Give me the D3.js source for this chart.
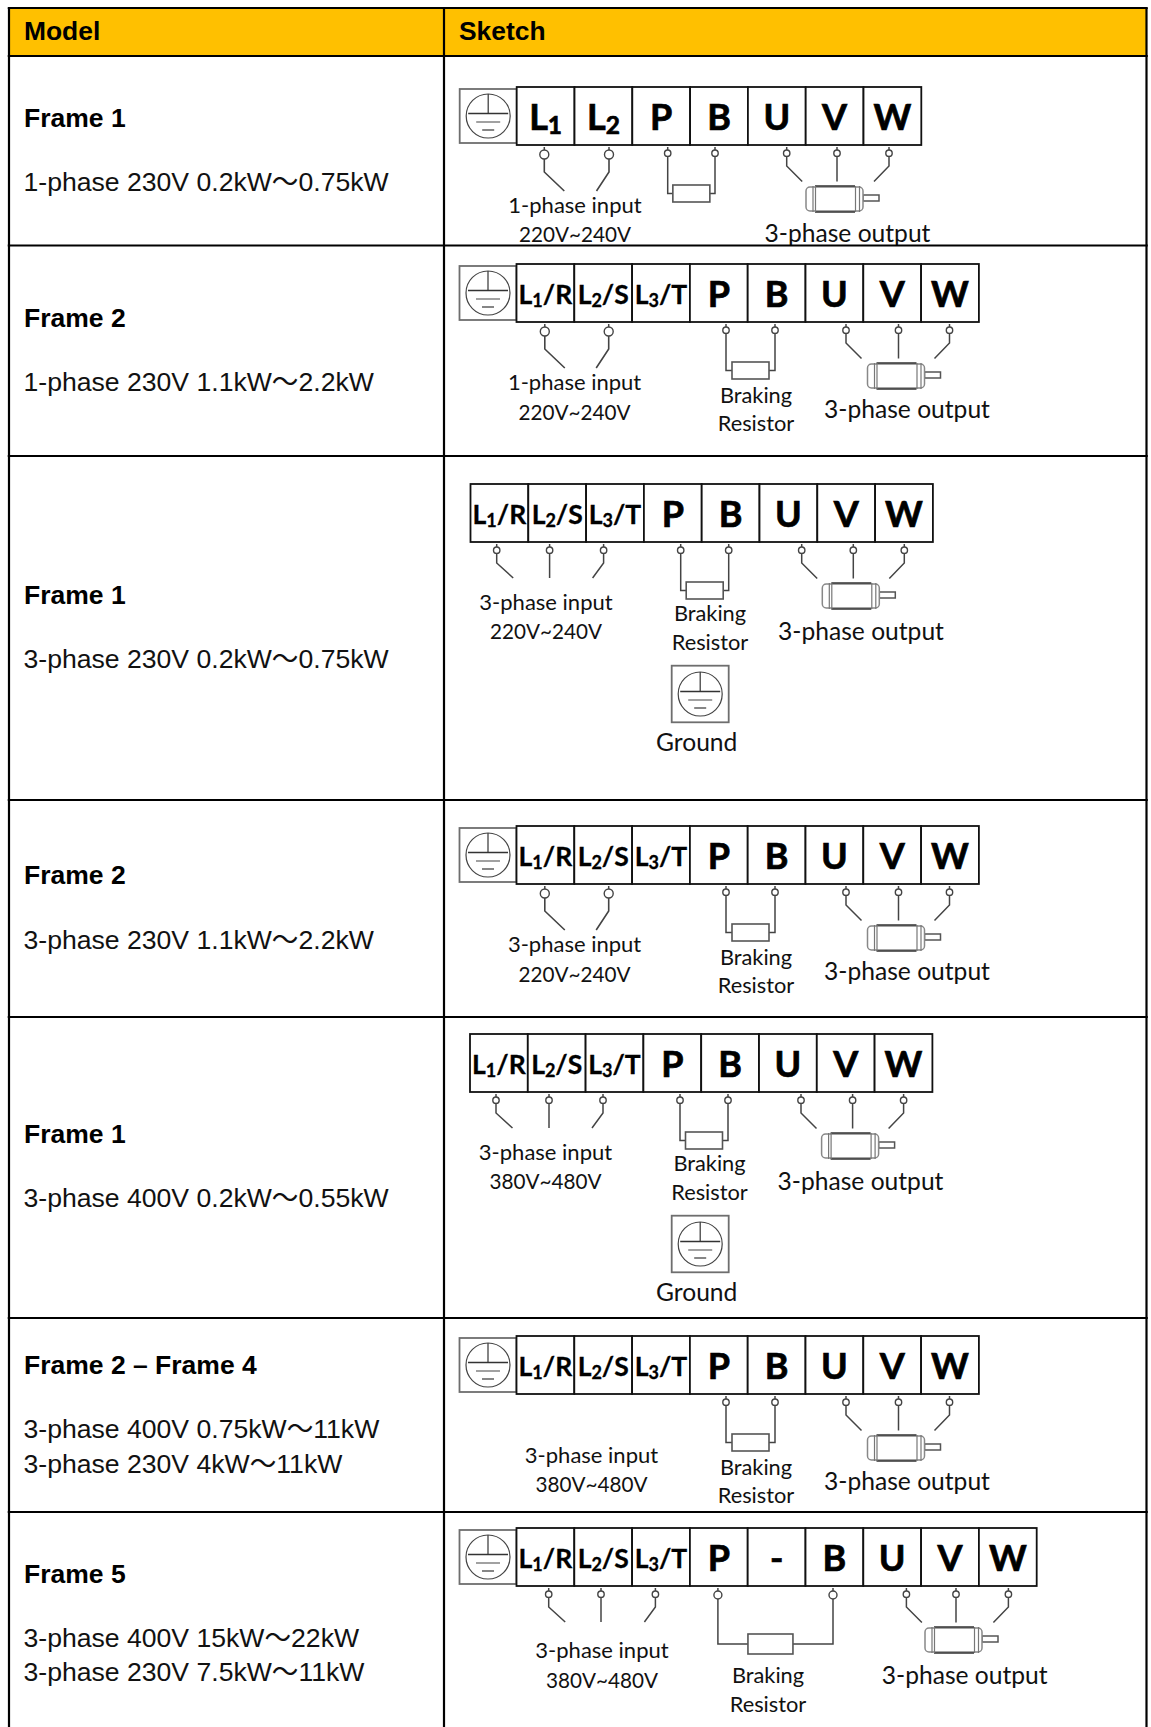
<!DOCTYPE html>
<html>
  <head>
    <title>Wiring sketches</title>
    <script src="https://cdn.jsdelivr.net/npm/d3@7/dist/d3.min.js"></script>
    <style>
      html, body { margin: 0; padding: 0; background: #fff; }
      svg { display: block; }
    </style>
  </head>
  <body>
    <svg width="1151" height="1727" id="mainsvg"></svg>
    <script>
      // table text
      const headers = ["Model", "Sketch"];
      const frameNames = ["Frame 1", "Frame 2", "Frame 1", "Frame 2", "Frame 1", "Frame 2 – Frame 4", "Frame 5"];
      const modelLines = [
        ["1-phase 230V 0.2kW～0.75kW"],
        ["1-phase 230V 1.1kW～2.2kW"],
        ["3-phase 230V 0.2kW～0.75kW"],
        ["3-phase 230V 1.1kW～2.2kW"],
        ["3-phase 400V 0.2kW～0.55kW"],
        ["3-phase 400V 0.75kW～11kW", "3-phase 230V 4kW～11kW"],
        ["3-phase 400V 15kW～22kW", "3-phase 230V 7.5kW～11kW"],
      ];
      const terminals = [
        ["L1", "L2", "P", "B", "U", "V", "W"],
        ["L1/R", "L2/S", "L3/T", "P", "B", "U", "V", "W"],
        ["L1/R", "L2/S", "L3/T", "P", "B", "U", "V", "W"],
        ["L1/R", "L2/S", "L3/T", "P", "B", "U", "V", "W"],
        ["L1/R", "L2/S", "L3/T", "P", "B", "U", "V", "W"],
        ["L1/R", "L2/S", "L3/T", "P", "B", "U", "V", "W"],
        ["L1/R", "L2/S", "L3/T", "P", "-", "B", "U", "V", "W"],
      ];
      const inputLabels = [
        ["1-phase input", "220V~240V"],
        ["1-phase input", "220V~240V"],
        ["3-phase input", "220V~240V"],
        ["3-phase input", "220V~240V"],
        ["3-phase input", "380V~480V"],
        ["3-phase input", "380V~480V"],
        ["3-phase input", "380V~480V"],
      ];

      // layout of the page
      const colX = [9, 444, 1146.5];
      const rowY = [8, 56, 245.5, 456, 800, 1017, 1318, 1512, 1729];
      const cellW = 57.8;
      const stripH = 58;
      const titleBase = [127, 327, 604, 883.5, 1143, 1374, 1583];
      const lineBase = [[190.7], [391], [668], [948.5], [1207], [1437.5, 1473], [1647, 1681]];

      // one entry per sketch: strip corner, wires, label anchors
      const sketches = [
        { x: 516.7, y: 87, ground: "left", inputs: [544.3, 609], inputKind: "two", inputText: [575, 126, 155],
          res: [667.7, 715], resText: null, motor: [786.7, 837, 889], motorText: [847.5, 154.6] },
        { x: 516.5, y: 264, ground: "left", inputs: [544.8, 608.7], inputKind: "two", inputText: [574.6, 126, 156],
          res: [726, 775], resText: [756, 139, 167], motor: [846, 898.5, 949.5], motorText: [907, 154] },
        { x: 470.5, y: 484, ground: "below", inputs: [496.7, 549.6, 603.6], inputKind: "three", inputText: [546, 126, 155],
          res: [680.7, 728.7], resText: [710, 136.7, 166], motor: [801.7, 853.3, 904.3], motorText: [861, 156] },
        { x: 516.5, y: 826, ground: "left", inputs: [544.8, 608.7], inputKind: "two", inputText: [574.6, 126, 156],
          res: [726, 775], resText: [756, 139, 167], motor: [846, 898.5, 949.5], motorText: [907, 154] },
        { x: 470, y: 1034, ground: "below", inputs: [496, 549, 603], inputKind: "three", inputText: [545.5, 126, 155],
          res: [680, 728], resText: [709.5, 136.7, 166], motor: [801, 852.6, 903.6], motorText: [860.5, 156] },
        { x: 516.5, y: 1336, ground: "left", inputs: [], inputKind: "none", inputText: [591.5, 127, 156],
          res: [726, 775], resText: [756, 139, 167], motor: [846, 898.5, 949.5], motorText: [907, 154] },
        { x: 516.5, y: 1528, ground: "left", inputs: [548.7, 601, 655.4], inputKind: "three", inputText: [602, 130, 160],
          res: [717.9, 833], resWide: true, resText: [768, 154.5, 184], motor: [906.4, 956, 1008.4], motorText: [964.7, 155.5] },
      ];
      const groundLabel = "Ground";
      const brakingLabel = ["Braking", "Resistor"];
      const motorLabel = "3-phase output";

      const ARIAL = "'Liberation Sans', 'Noto Sans CJK SC', sans-serif";
      const CALIBRI = "Lato, 'Noto Sans', sans-serif";
      const GRAY = "#6e6e6e";

      const svg = d3.select("#mainsvg");
      const line = d3.line();

      // header band
      svg.append("rect")
        .attr("x", colX[0]).attr("y", rowY[0])
        .attr("width", colX[2] - colX[0]).attr("height", rowY[1] - rowY[0])
        .attr("fill", "#FFC000");

      svg.selectAll(".head").data(headers).join("text")
        .attr("class", "head")
        .attr("x", (d, i) => colX[i] + 15)
        .attr("y", 40)
        .attr("font-family", ARIAL).attr("font-weight", "bold").attr("font-size", 26.4)
        .text((d) => d);

      // left column
      svg.selectAll(".frame").data(frameNames).join("text")
        .attr("class", "frame")
        .attr("x", 24)
        .attr("y", (d, i) => titleBase[i])
        .attr("font-family", ARIAL).attr("font-weight", "bold").attr("font-size", 26.5)
        .text((d) => d);

      modelLines.forEach((lines, r) => {
        svg.append("g").selectAll("text").data(lines).join("text")
          .attr("x", 23.5)
          .attr("y", (d, i) => lineBase[r][i])
          .attr("font-family", ARIAL).attr("font-size", 26.6).attr("fill", "#111")
          .text((d) => d);
      });

      function centerText(g, str, x, y, size, squeeze) {
        const t = g.append("text")
          .attr("x", x).attr("y", y)
          .attr("text-anchor", "middle")
          .attr("font-family", CALIBRI).attr("font-size", size || 22).attr("fill", "#111")
          .text(str);
        // Lato digits run wider than the original face
        if (squeeze) t.attr("textLength", squeeze).attr("lengthAdjust", "spacingAndGlyphs");
      }

      function groundBox(g, x0, y0, w, h) {
        const cx = x0 + w / 2, cy = y0 + h / 2;
        g.append("rect").attr("x", x0).attr("y", y0).attr("width", w).attr("height", h)
          .attr("fill", "#fff").attr("stroke", GRAY).attr("stroke-width", 1.8);
        g.append("circle").attr("cx", cx).attr("cy", cy).attr("r", 22)
          .attr("fill", "none").attr("stroke", "#444").attr("stroke-width", 1.2);
        const bars = [[-2.5, 20, "#333"], [6, 12, GRAY], [14, 6, "#444"]];
        g.selectAll("line.bar").data(bars).join("line")
          .attr("class", "bar")
          .attr("x1", (d) => cx - d[1]).attr("x2", (d) => cx + d[1])
          .attr("y1", (d) => cy + d[0]).attr("y2", (d) => cy + d[0])
          .attr("stroke", (d) => d[2]).attr("stroke-width", 1.3);
        g.append("line").attr("x1", cx).attr("x2", cx).attr("y1", cy - 22).attr("y2", cy - 2.5)
          .attr("stroke", "#333").attr("stroke-width", 1.2);
      }

      function wire(g, pts, w) {
        g.append("path").attr("d", line(pts)).attr("fill", "none")
          .attr("stroke", "#444").attr("stroke-width", w || 1.5);
      }

      // lead with its small ring under a terminal
      function ring(g, x, top, r) {
        wire(g, [[x, top + 60], [x, top + 64]]);
        g.append("circle").attr("cx", x).attr("cy", top + 60 + 3 + r).attr("r", r)
          .attr("fill", "#fff").attr("stroke", "#444").attr("stroke-width", 1.4);
      }

      function drawStrip(g, names, s) {
        const x = d3.scaleBand().domain(d3.range(names.length))
          .range([s.x, s.x + cellW * names.length]);

        const cells = g.selectAll(".cell").data(names).join("g").attr("class", "cell");
        cells.append("rect")
          .attr("x", (d, i) => x(i)).attr("y", s.y)
          .attr("width", x.bandwidth()).attr("height", stripH)
          .attr("fill", "#fff").attr("stroke", "#111").attr("stroke-width", 1.8);

        cells.append("text")
          .attr("x", (d, i) => x(i) + x.bandwidth() / 2)
          .attr("y", (d) => s.y + (d.length > 2 ? 40 : 43))
          .attr("text-anchor", "middle")
          .attr("font-family", CALIBRI).attr("font-weight", "bold")
          .attr("font-size", (d) => (d.length > 2 ? 26.5 : 36))
          .attr("fill", "#000")
          .attr("stroke", "#000").attr("stroke-width", (d) => (d.length > 2 ? 0.3 : 0.7))
          .each(function (d) {
            const t = d3.select(this);
            if (d[0] !== "L") { t.text(d); return; }
            const big = d.length > 2 ? 26.5 : 36;
            t.append("tspan").text("L");
            t.append("tspan").attr("font-size", big * 0.68).attr("dy", big * 0.12).text(d[1]);
            if (d.length > 2) t.append("tspan").attr("dy", -big * 0.12).text(d.slice(2));
          });
      }

      function drawInputs(g, s) {
        const r = s.inputKind === "two" ? 4.5 : 3.2;
        const elbow = s.y + 79;
        s.inputs.forEach((wx, i) => {
          ring(g, wx, s.y, r);
          const last = s.inputs.length - 1;
          if (s.inputKind === "two") {
            const dir = i === 0 ? 1 : -1;
            wire(g, [[wx, s.y + 63 + 2 * r], [wx, s.y + 85], [wx + dir * (i === 0 ? 20 : 12.5), s.y + 104]], 1.6);
          } else if (i === 0) {
            wire(g, [[wx, s.y + 63 + 2 * r], [wx, elbow], [wx + 16.5, s.y + 94]]);
          } else if (i === last) {
            wire(g, [[wx, s.y + 63 + 2 * r], [wx, elbow], [wx - 11, s.y + 94]]);
          } else {
            wire(g, [[wx, s.y + 63 + 2 * r], [wx, s.y + 94]]);
          }
        });
      }

      function drawResistor(g, s) {
        const [a, b] = s.res;
        const r = s.resWide ? 4 : 3.2;
        ring(g, a, s.y, r);
        ring(g, b, s.y, r);
        const top = s.resWide ? s.y + 106 : s.y + 98;
        const h = s.resWide ? 20 : 17;
        const w = s.resWide ? 45 : 37;
        const mid = top + h / 2;
        const left = (a + b) / 2 - w / 2 + (s.resWide ? -5 : 0);
        wire(g, [[a, s.y + 63 + 2 * r], [a, mid], [left, mid]]);
        wire(g, [[b, s.y + 63 + 2 * r], [b, mid], [left + w, mid]]);
        g.append("rect").attr("x", left).attr("y", top).attr("width", w).attr("height", h)
          .attr("fill", "#fff").attr("stroke", "#555").attr("stroke-width", 1.6);
      }

      function drawMotor(g, s) {
        const [u, v, w] = s.motor;
        s.motor.forEach((wx) => ring(g, wx, s.y, 3.2));
        const start = s.y + 69.4;
        wire(g, [[u, start], [u, s.y + 79], [u + 15.5, s.y + 94.5]]);
        wire(g, [[v, start], [v, s.y + 94.5]]);
        wire(g, [[w, start], [w, s.y + 79], [w - 15, s.y + 94.5]]);

        const top = s.y + 99;
        g.append("rect").attr("x", v + 26).attr("y", top + 9).attr("width", 16).attr("height", 6)
          .attr("fill", "#fff").attr("stroke", "#555").attr("stroke-width", 1.5);
        g.append("rect").attr("x", v - 31).attr("y", top + 1).attr("width", 57).attr("height", 24).attr("rx", 4)
          .attr("fill", "#fff").attr("stroke", "#888").attr("stroke-width", 1.5);
        g.append("path")
          .attr("d", line([[v - 22, top], [v + 18, top]]) + line([[v - 22, top + 26], [v + 18, top + 26]]))
          .attr("stroke", "#333").attr("stroke-width", 1.6);
        [-24, -21.5, 18.5, 22.5].forEach((dx) => {
          g.append("line").attr("x1", v + dx).attr("x2", v + dx).attr("y1", top).attr("y2", top + 26)
            .attr("stroke", "#777").attr("stroke-width", 1.2);
        });
      }

      sketches.forEach((s, r) => {
        const g = svg.append("g").attr("class", "sketch");
        const names = terminals[r];

        if (s.ground === "left") groundBox(g, s.x - 57, s.y + 2, 57, 54);
        drawStrip(g, names, s);
        drawInputs(g, s);
        drawResistor(g, s);
        drawMotor(g, s);

        centerText(g, inputLabels[r][0], s.inputText[0], s.y + s.inputText[1], 22);
        centerText(g, inputLabels[r][1], s.inputText[0], s.y + s.inputText[2], 22, 112);
        if (s.resText) {
          centerText(g, brakingLabel[0], s.resText[0], s.y + s.resText[1], 21.8);
          centerText(g, brakingLabel[1], s.resText[0], s.y + s.resText[2], 21.8);
        }
        centerText(g, motorLabel, s.motorText[0], s.y + s.motorText[1], 24.6);
        if (s.ground === "below") {
          groundBox(g, 671.7, s.y + 181.7, 57, 56.6);
          centerText(g, groundLabel, 696.7, s.y + 267, 24.6);
        }
      });

      // table rules go on top of the text
      svg.selectAll(".hline").data(rowY).join("line")
        .attr("class", "hline")
        .attr("x1", colX[0] - 1.25).attr("x2", colX[2] + 1.25)
        .attr("y1", (d) => d).attr("y2", (d) => d)
        .attr("stroke", "#000").attr("stroke-width", 2.2);

      svg.selectAll(".vline").data(colX).join("line")
        .attr("class", "vline")
        .attr("x1", (d) => d).attr("x2", (d) => d)
        .attr("y1", rowY[0]).attr("y2", 1727)
        .attr("stroke", "#000").attr("stroke-width", 2.2);
    </script>
  </body>
</html>
